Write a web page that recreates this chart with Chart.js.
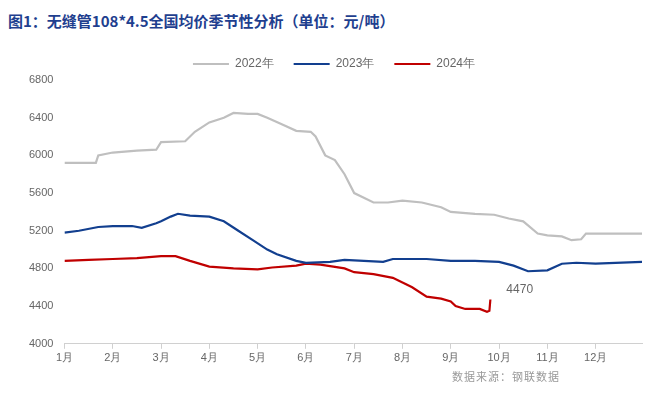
<!DOCTYPE html>
<html><head><meta charset="utf-8">
<script src="https://cdn.jsdelivr.net/npm/chart.js@4"></script>
<style>
body{margin:0;background:#fff;width:660px;height:400px;position:relative;font-family:"Noto Sans CJK SC",sans-serif;}
#t{position:absolute;left:8px;top:10px;font-size:15px;font-weight:bold;color:#1f3f8f;}
#s{position:absolute;left:452px;top:368px;font-size:11px;color:#999;letter-spacing:1px;}
#w{position:absolute;left:0;top:38px;width:660px;height:352px;}
</style></head><body>
<div id="t">图1：无缝管108*4.5全国均价季节性分析（单位：元/吨）</div>
<div id="w"><canvas id="c"></canvas></div>
<div id="s">数据来源：钢联数据</div>
<script>
const monthLabels=["1月","2月","3月","4月","5月","6月","7月","8月","9月","10月","11月","12月"];
const x2022=[1,1.65,1.7,2.0,2.5,2.9,3.0,3.5,3.7,4.0,4.3,4.5,4.8,5.0,5.2,5.5,5.8,6.1,6.2,6.4,6.6,6.8,7.0,7.2,7.4,7.7,8.0,8.4,8.8,9.0,9.5,9.9,10.2,10.5,10.8,11.0,11.3,11.5,11.7,11.8,12.96];
const v2022=[5920,5920,6000,6030,6050,6060,6140,6150,6250,6350,6400,6450,6440,6440,6400,6330,6260,6250,6200,6000,5950,5800,5600,5550,5500,5500,5520,5500,5450,5400,5380,5370,5330,5300,5170,5150,5140,5100,5110,5170,5170];
const x2023=[1,1.3,1.7,2.0,2.4,2.6,2.9,3.0,3.2,3.35,3.6,4.0,4.3,4.6,4.9,5.2,5.4,5.8,6.0,6.5,6.8,7.2,7.6,7.8,8.5,9.0,9.5,10.0,10.3,10.6,11.0,11.3,11.6,12.0,12.96];
const v2023=[5180,5200,5240,5250,5250,5230,5280,5300,5350,5380,5360,5350,5300,5200,5100,5000,4950,4880,4860,4870,4890,4880,4870,4900,4900,4880,4880,4870,4830,4770,4780,4850,4860,4850,4870];
const x2024=[1,1.5,2.0,2.5,3.0,3.3,3.6,4.0,4.5,5.0,5.3,5.8,6.0,6.3,6.8,7.0,7.4,7.8,8.0,8.2,8.5,8.8,9.0,9.1,9.3,9.6,9.75,9.8,9.82];
const v2024=[4880,4890,4900,4910,4930,4930,4880,4820,4800,4790,4810,4830,4850,4840,4800,4760,4740,4700,4650,4600,4500,4480,4450,4400,4370,4370,4340,4350,4470];
const yTicks=[4000,4400,4800,5200,5600,6000,6400,6800];
const pts=(xs,vs)=>xs.map((x,i)=>({x:x,y:vs[i]}));
const lastLabel={id:'lastLabel',afterDatasetsDraw(ch){const m=ch.getDatasetMeta(2);const p=m.data[m.data.length-1];const c=ch.ctx;c.save();c.font='12px "Liberation Sans",Arial';c.fillStyle='#666';c.textBaseline='middle';c.fillText(String(v2024[v2024.length-1]),p.x+16,p.y-10);c.restore();}};
new Chart(document.getElementById('c'),{type:'line',
data:{datasets:[
{label:'2022年',data:pts(x2022,v2022),borderColor:'#bfbfbf',backgroundColor:'#bfbfbf',borderWidth:2.2,pointRadius:0,tension:0},
{label:'2023年',data:pts(x2023,v2023),borderColor:'#123f8f',backgroundColor:'#123f8f',borderWidth:2.2,pointRadius:0,tension:0},
{label:'2024年',data:pts(x2024,v2024),borderColor:'#c00000',backgroundColor:'#c00000',borderWidth:2.2,pointRadius:0,tension:0}]},
options:{responsive:true,maintainAspectRatio:false,animation:false,
layout:{padding:{left:26,right:18,top:0,bottom:22}},
plugins:{legend:{position:'top',labels:{boxWidth:36,boxHeight:0,color:'#666',font:{size:12,family:'"Liberation Sans",Arial'},padding:20}},tooltip:{enabled:false}},
scales:{
x:{type:'linear',min:1,max:12.96,afterBuildTicks(a){a.ticks=monthLabels.map((_,i)=>({value:i+1}));},
ticks:{callback:(v)=>monthLabels[v-1],color:'#666',font:{size:11},maxRotation:0,autoSkip:false},
grid:{drawOnChartArea:false,drawTicks:true,tickLength:5,color:'#d0d0d0'},border:{color:'#d0d0d0'}},
y:{min:4000,max:6800,afterBuildTicks(a){a.ticks=yTicks.map(v=>({value:v}));},
ticks:{callback:(v)=>String(v),color:'#666',font:{size:11,family:'"Liberation Sans",Arial'}},grid:{display:false},border:{display:false}}}},
plugins:[lastLabel]});
</script></body></html>
